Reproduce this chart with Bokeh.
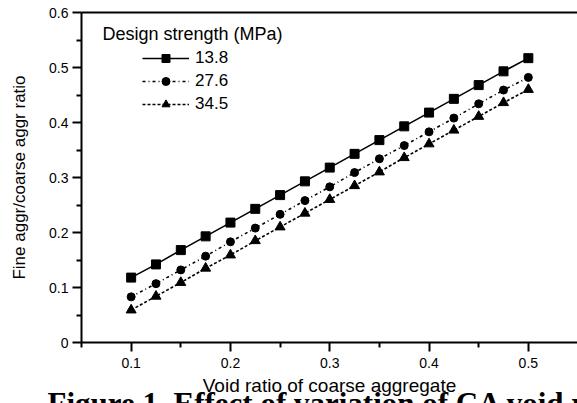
from bokeh.plotting import figure
from bokeh.models import (Range1d, FixedTicker, Legend, LegendItem, Label,
                          LinearAxis, Title)
from bokeh.embed import file_html
from bokeh.resources import INLINE

# ---- data ----
void_ratio = [0.1, 0.125, 0.15, 0.175, 0.2, 0.225, 0.25, 0.275, 0.3,
              0.325, 0.35, 0.375, 0.4, 0.425, 0.45, 0.475, 0.5]
s_13_8 = [0.118, 0.142, 0.168, 0.193, 0.218, 0.243, 0.268, 0.293, 0.318,
          0.343, 0.368, 0.393, 0.418, 0.443, 0.468, 0.493, 0.517]
s_27_6 = [0.083, 0.107, 0.132, 0.157, 0.183, 0.208, 0.233, 0.258, 0.283,
          0.309, 0.334, 0.358, 0.383, 0.408, 0.434, 0.459, 0.482]
s_34_5 = [0.059, 0.084, 0.109, 0.135, 0.159, 0.185, 0.210, 0.235, 0.260,
          0.285, 0.310, 0.336, 0.361, 0.386, 0.411, 0.436, 0.460]
series_labels = ["13.8", "27.6", "34.5"]
x_ticks = [0.1, 0.2, 0.3, 0.4, 0.5]
y_ticks = [0.0, 0.1, 0.2, 0.3, 0.4, 0.5, 0.6]
legend_title = "Design strength (MPa)"
x_label = "Void ratio of coarse aggregate"
y_label = "Fine aggr/coarse aggr ratio"
caption = "Figure 1. Effect of variation of CA void ratio"

FONT = "Liberation Sans"

p = figure(width=577, height=403, output_backend="svg", toolbar_location=None,
           x_range=Range1d(0.05, 0.5495), y_range=Range1d(0.0, 0.6),
           min_border_left=81, min_border_right=0, min_border_top=12,
           min_border_bottom=61)
p.background_fill_color = "white"
p.border_fill_color = "white"
p.outline_line_color = None
p.grid.visible = False

for ax in (p.xaxis[0], p.yaxis[0]):
    ax.axis_line_width = 2
    ax.axis_line_color = "black"
    ax.major_tick_line_color = "black"
    ax.minor_tick_line_color = "black"
    ax.major_tick_line_width = 2
    ax.minor_tick_line_width = 2
    ax.major_tick_out = 9
    ax.major_tick_in = 0
    ax.minor_tick_out = 5
    ax.minor_tick_in = 0
    ax.major_label_text_font = FONT
    ax.major_label_text_font_size = "14px"
    ax.major_label_text_color = "black"
    ax.axis_label_text_font = FONT
    ax.axis_label_text_font_style = "normal"
    ax.axis_label_text_color = "black"

p.xaxis[0].ticker = FixedTicker(ticks=x_ticks,
                                minor_ticks=[0.05, 0.15, 0.25, 0.35, 0.45, 0.55])
p.yaxis[0].ticker = FixedTicker(ticks=y_ticks,
                                minor_ticks=[0.05, 0.15, 0.25, 0.35, 0.45, 0.55])
p.xaxis[0].major_label_standoff = 6
p.xaxis[0].axis_label_standoff = 4
p.yaxis[0].major_label_standoff = 4
p.yaxis[0].axis_label_standoff = 17
p.xaxis[0].axis_label = x_label
p.yaxis[0].axis_label = y_label
p.xaxis[0].axis_label_text_font_size = "19px"
p.yaxis[0].axis_label_text_font_size = "17px"

# top border line (plain axis with no ticks or labels)
top_axis = LinearAxis(ticker=FixedTicker(ticks=[]), axis_line_width=2,
                      axis_line_color="black", major_tick_out=0, major_tick_in=0,
                      minor_tick_out=0, minor_tick_in=0, major_label_standoff=0,
                      major_tick_line_color=None, minor_tick_line_color=None)
p.add_layout(top_axis, "above")

l1 = p.line(void_ratio, s_13_8, line_color="black", line_width=1.6)
m1 = p.scatter(void_ratio, s_13_8, marker="square", size=9, color="black")
l2 = p.line(void_ratio, s_27_6, line_color="black", line_width=1.6, line_dash="3 3 1 3")
m2 = p.scatter(void_ratio, s_27_6, marker="circle", size=8, color="black")
l3 = p.line(void_ratio, s_34_5, line_color="black", line_width=1.6, line_dash="3 2")
m3 = p.scatter(void_ratio, s_34_5, marker="triangle", size=10, color="black")

legend = Legend(items=[LegendItem(label=series_labels[0], renderers=[l1, m1]),
                       LegendItem(label=series_labels[1], renderers=[l2, m2]),
                       LegendItem(label=series_labels[2], renderers=[l3, m3])],
                location=(61, 228), orientation="vertical",
                glyph_width=47, glyph_height=20, label_height=20, spacing=3,
                label_standoff=6, padding=0, margin=0,
                border_line_color=None, background_fill_alpha=0,
                label_text_font=FONT, label_text_font_size="17px",
                label_text_color="black")
p.add_layout(legend)

p.add_layout(Label(x=21, y=309, x_units="screen", y_units="screen",
                   text=legend_title, text_font=FONT, text_font_size="18px",
                   text_baseline="middle", text_color="black"))

cap = Title(text="\n" + caption, text_font="Liberation Serif", text_font_style="bold",
            text_font_size="31px", text_color="black", align="left",
            vertical_align="top", offset=-34, standoff=-96)
p.add_layout(cap, "below")

open("out.html", "w").write(file_html(p, INLINE))
